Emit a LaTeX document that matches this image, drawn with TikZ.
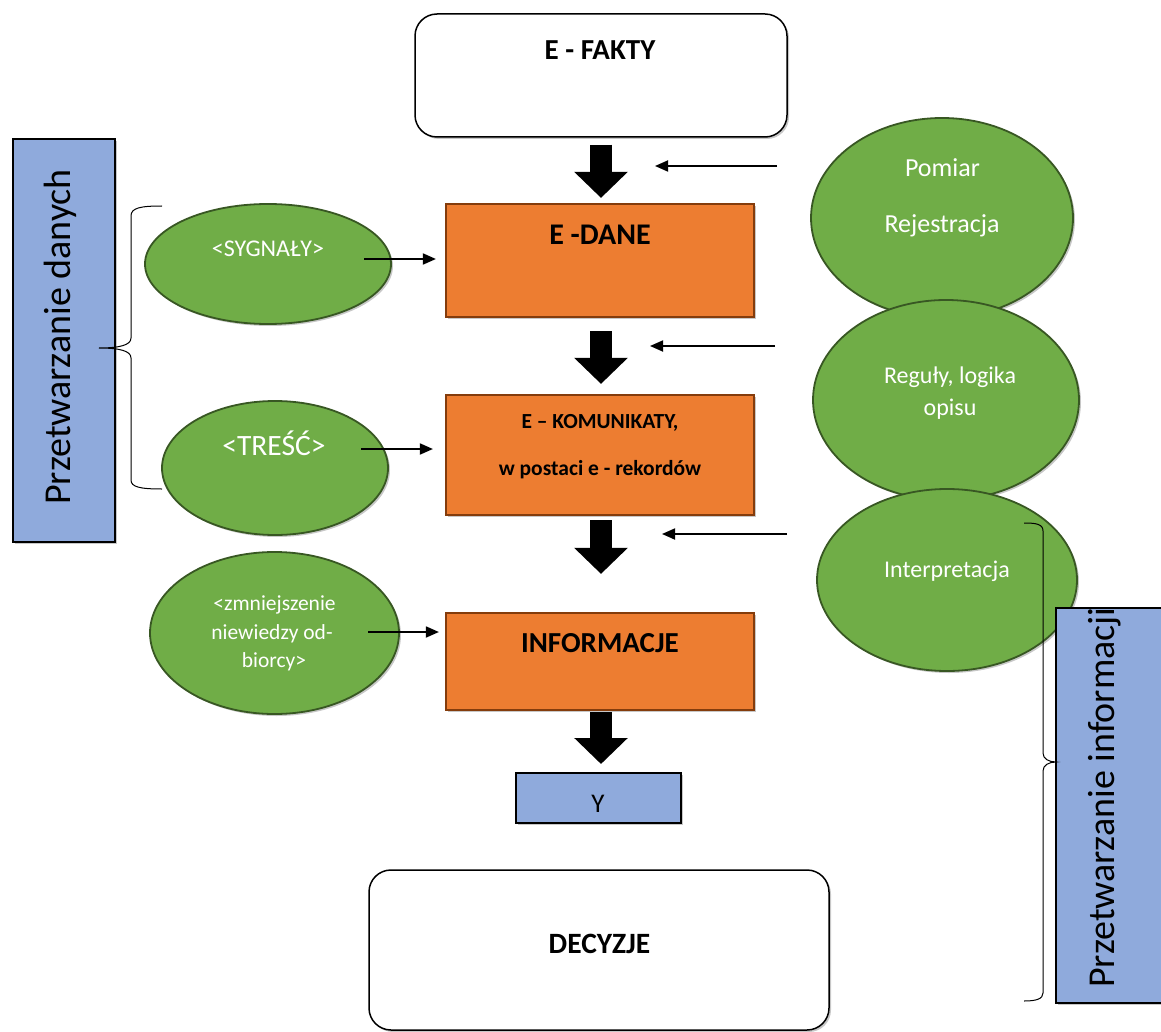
\documentclass[tikz,border=0pt]{standalone}
\usepackage{fontspec}
\setmainfont{Carlito}
\usetikzlibrary{arrows.meta,shadows,shapes.geometric}

\definecolor{boxorange}{HTML}{ED7D31}
\definecolor{boxorangeline}{HTML}{843C0C}
\definecolor{ovalgreen}{HTML}{70AD47}
\definecolor{ovalgreenline}{HTML}{385723}
\definecolor{panelblue}{HTML}{8FAADC}

\newcommand\pxfont[1]{\fontsize{#1}{#1}\selectfont}

\begin{document}
\begin{tikzpicture}[x=1pt,y=-1pt,
  softshadow/.style={drop shadow={shadow xshift=2pt,shadow yshift=-2pt,opacity=0.22,fill=black}},
  roundbox/.style={draw=black,line width=1.5pt,fill=white,rounded corners=22pt,inner sep=0pt,softshadow},
  orangebox/.style={draw=boxorangeline,line width=2.2pt,fill=boxorange,inner sep=0pt,
    minimum width=308pt,softshadow},
  bluepanel/.style={draw=black,line width=2pt,fill=panelblue,inner sep=0pt,softshadow},
  oval/.style={ellipse,draw=ovalgreenline,line width=1.8pt,fill=ovalgreen,inner sep=0pt,softshadow},
  boldtext/.style={anchor=base,inner sep=0pt,font=\bfseries},
  ovaltext/.style={anchor=base,inner sep=0pt,text=white},
  flowarrow/.style={line width=22pt,-{Triangle[width=52pt,length=26pt]}},
  sidearrow/.style={line width=1.8pt,-{Triangle[width=11pt,length=13pt]}},
  bracket/.style={line width=1pt}]

\useasboundingbox (0,0) rectangle (1161,1032);
\clip (0,0) rectangle (1161,1032);

% main column of boxes
\node[roundbox,minimum width=372pt,minimum height=123pt] (fakty) at (601,75.5) {};
\node[orangebox,minimum height=113pt] (dane) at (600,260.5) {};
\node[orangebox,minimum height=120pt] (komun) at (600,455) {};
\node[orangebox,minimum height=97pt] (info) at (600,661.5) {};
\node[bluepanel,minimum width=165pt,minimum height=50pt] (ybox) at (598.5,798) {};
\node[roundbox,minimum width=460pt,minimum height=160pt] (decyzje) at (599,950) {};

\node[boldtext,font=\bfseries\pxfont{29}] (tfakty) at (600,60) {E - FAKTY};
\node[boldtext,font=\bfseries\pxfont{30}] (tdane) at (600,244) {E -DANE};
\node[boldtext,font=\bfseries\pxfont{21.5}] (tkom1) at (600,428) {E – KOMUNIKATY,};
\node[boldtext,font=\bfseries\pxfont{21.5}] (tkom2) at (600,475) {w postaci e - rekordów};
\node[boldtext,font=\bfseries\pxfont{29}] (tinfo) at (600,652) {INFORMACJE};
\node[anchor=base,inner sep=0pt,font=\pxfont{27}] (ty) at (598,812) {Y};
\node[boldtext,font=\bfseries\pxfont{29.5}] (tdec) at (599.5,953) {DECYZJE};

% thick arrows down the column
\draw[flowarrow,shorten <=7pt,shorten >=5pt] (fakty.south) -- (fakty.south |- dane.north);
\draw[flowarrow,shorten <=13pt,shorten >=10pt] (fakty.south |- dane.south) -- (fakty.south |- komun.north);
\draw[flowarrow,shorten <=4pt,shorten >=38pt] (fakty.south |- komun.south) -- (fakty.south |- info.north);
\draw[flowarrow,shorten <=1pt,shorten >=8pt] (fakty.south |- info.south) -- (fakty.south |- ybox.north);

% left panel
\node[bluepanel,minimum width=102pt,minimum height=403pt] (lpanel) at (64,340.5) {};
\node[anchor=base west,rotate=90,inner sep=0pt,font=\pxfont{38}] (tlpanel) at (70,505) {Przetwarzanie danych};

% left ovals
\node[oval,minimum width=246pt,minimum height=120pt] (syg) at (268,264) {};
\node[oval,minimum width=226pt,minimum height=134pt] (tres) at (275,468) {};
\node[oval,minimum width=249pt,minimum height=162pt] (zmn) at (274.5,633) {};
\node[ovaltext,font=\pxfont{24}] (tsyg) at (268,257) {<SYGNAŁY>};
\node[ovaltext,font=\pxfont{29.5}] (ttres) at (274,455) {<TREŚĆ>};
\node[ovaltext,font=\pxfont{21.5}] (tzmn1) at (274.5,610) {<zmniejszenie};
\node[ovaltext,font=\pxfont{21.5}] (tzmn2) at (272,639) {niewiedzy od-};
\node[ovaltext,font=\pxfont{21.5}] (tzmn3) at (274,667) {biorcy>};

% left bracket
\draw[bracket] (162,206) .. controls (140,206) and (131,208) .. (131,216)
  -- (131,338) .. controls (131,345) and (120,348) .. (99,348)
  .. controls (120,348) and (131,351) .. (131,358)
  -- (131,480) .. controls (131,487) and (140,489) .. (162,489);

% arrows from the left ovals into the boxes
\coordinate (sygout) at (364,259);
\coordinate (tresout) at (361,449);
\coordinate (zmnout) at (368,632);
\draw[sidearrow,shorten >=9pt] (sygout) -- (sygout -| dane.west);
\draw[sidearrow,shorten >=12pt] (tresout) -- (tresout -| komun.west);
\draw[sidearrow,shorten >=6pt] (zmnout) -- (zmnout -| info.west);

% right ovals
\node[oval,minimum width=262pt,minimum height=200pt] (pom) at (942,218) {};
\node[oval,minimum width=266pt,minimum height=200pt] (reg) at (946,400) {};
\node[oval,minimum width=260pt,minimum height=182pt] (interp) at (947,580) {};
\node[ovaltext,font=\pxfont{26}] (tpom1) at (942.5,177) {Pomiar};
\node[ovaltext,font=\pxfont{26}] (tpom2) at (942,233) {Rejestracja};
\node[ovaltext,font=\pxfont{24}] (treg1) at (950,383) {Reguły, logika};
\node[ovaltext,font=\pxfont{24}] (treg2) at (950,415) {opisu};
\node[ovaltext,font=\pxfont{24}] (tint) at (947,577) {Interpretacja};

% arrows from the right towards the column
\coordinate (m1s) at (777,166);
\coordinate (m1e) at (655,166);
\coordinate (m2s) at (775,346);
\coordinate (m2e) at (650,346);
\coordinate (m3s) at (787,534);
\coordinate (m3e) at (662,534);
\draw[sidearrow] (m1s) -- (m1e);
\draw[sidearrow] (m2s) -- (m2e);
\draw[sidearrow] (m3s) -- (m3e);

% right panel
\node[bluepanel,minimum width=120pt,minimum height=395pt] (rpanel) at (1116,805.5) {};
\node[anchor=base west,rotate=90,inner sep=0pt,font=\pxfont{38}] (trpanel) at (1114,988) {Przetwarzanie informacji};

% right bracket
\draw[bracket] (1024,523) .. controls (1036,523) and (1043,524) .. (1043,531)
  -- (1043,753) .. controls (1043,759) and (1049,762) .. (1056,762)
  .. controls (1049,762) and (1043,765) .. (1043,771)
  -- (1043,993) .. controls (1043,999) and (1036,1001) .. (1024,1001);

\end{tikzpicture}
\end{document}
